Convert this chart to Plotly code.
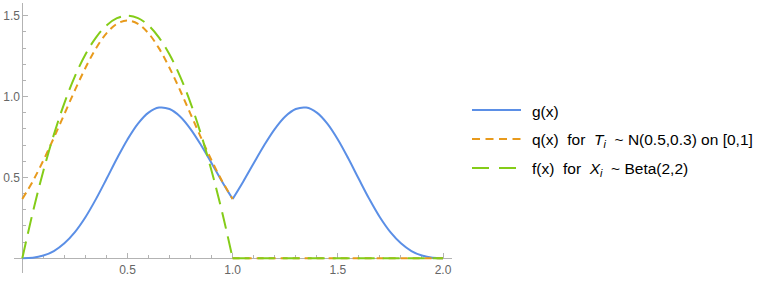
import plotly.graph_objects as go

# ---- data ----
x_left = [0.0, 0.05, 0.1, 0.15, 0.2, 0.25, 0.3, 0.35, 0.4, 0.45, 0.5,
          0.55, 0.6, 0.65, 0.7, 0.75, 0.8, 0.85, 0.9, 0.95, 1.0]
x_right = [1.0, 1.05, 1.1, 1.15, 1.2, 1.25, 1.3, 1.35, 1.4, 1.45, 1.5,
           1.55, 1.6, 1.65, 1.7, 1.75, 1.8, 1.85, 1.9, 1.95, 2.0]

g_left = [0.0, 0.003, 0.017, 0.045, 0.093, 0.162, 0.254, 0.366, 0.490, 0.617, 0.735,
          0.833, 0.901, 0.932, 0.923, 0.877, 0.799, 0.699, 0.588, 0.474, 0.367]
g_right = [0.367, 0.474, 0.588, 0.699, 0.799, 0.877, 0.923, 0.932, 0.901, 0.833, 0.735,
           0.617, 0.490, 0.366, 0.254, 0.162, 0.093, 0.045, 0.017, 0.003, 0.0]

q_left = [0.367, 0.477, 0.605, 0.745, 0.892, 1.039, 1.177, 1.298, 1.391, 1.450, 1.470,
          1.450, 1.391, 1.298, 1.177, 1.039, 0.892, 0.745, 0.605, 0.477, 0.367]
q_tail_x = [1.0, 2.0]
q_tail = [0.0, 0.0]

f_left = [0.0, 0.285, 0.54, 0.765, 0.96, 1.125, 1.26, 1.365, 1.44, 1.485, 1.5,
          1.485, 1.44, 1.365, 1.26, 1.125, 0.96, 0.765, 0.54, 0.285, 0.0]
f_tail_x = [1.0, 2.0]
f_tail = [0.0, 0.0]

x_tick_vals = [0.5, 1.0, 1.5, 2.0]
x_tick_text = ["0.5", "1.0", "1.5", "2.0"]
y_tick_vals = [0.5, 1.0, 1.5]
y_tick_text = ["0.5", "1.0", "1.5"]

legend_labels = [
    "g(x)",
    "q(x)\u00a0 for\u00a0 <i>T</i><sub><i>i</i></sub>\u00a0 ~ N(0.5,0.3) on [0,1]",
    "f(x)\u00a0 for\u00a0 <i>X</i><sub><i>i</i></sub>\u00a0 ~ Beta(2,2)",
]

BLUE = "#5b8fe6"
ORANGE = "#e89a1c"
GREEN = "#84cc18"
Q_DASH = "7px,5px"
F_DASH = "17px,8px"

W, H = 763, 281
ML, MR, MT, MB = 14, 311, 3, 8
PW, PH = W - ML - MR, H - MT - MB

XR = [-0.0395, 2.0428]
YR = [-0.0909, 1.5786]

fig = go.Figure()
for xs, ys in [(x_left, g_left), (x_right, g_right)]:
    fig.add_trace(go.Scatter(x=xs, y=ys, mode="lines", line=dict(color=BLUE, width=2, shape="spline"),
                             showlegend=False, hoverinfo="skip"))
fig.add_trace(go.Scatter(x=x_left, y=q_left, mode="lines",
                         line=dict(color=ORANGE, width=2, dash=Q_DASH, shape="spline"),
                         showlegend=False, hoverinfo="skip"))
fig.add_trace(go.Scatter(x=q_tail_x, y=q_tail, mode="lines",
                         line=dict(color=ORANGE, width=2, dash=Q_DASH),
                         showlegend=False, hoverinfo="skip"))
fig.add_trace(go.Scatter(x=x_left, y=f_left, mode="lines",
                         line=dict(color=GREEN, width=2, dash=F_DASH, shape="spline"),
                         showlegend=False, hoverinfo="skip"))
fig.add_trace(go.Scatter(x=f_tail_x, y=f_tail, mode="lines",
                         line=dict(color=GREEN, width=2, dash=F_DASH),
                         showlegend=False, hoverinfo="skip"))

def px_x(p):
    return (p - ML) / PW

def px_y(p):
    return (H - MB - p) / PH

AX_COL = "#b3b3b3"
TICK_FONT = dict(family="Liberation Sans, Arial, sans-serif", size=12, color="#666666")

minor_x = [round(0.1 * i, 1) for i in range(1, 20) if i not in (5, 10, 15)]
minor_y = [round(0.1 * i, 1) for i in range(1, 16) if i not in (5, 10, 15)]

fig.update_layout(
    width=W, height=H,
    margin=dict(l=ML, r=MR, t=MT, b=MB),
    paper_bgcolor="white", plot_bgcolor="white",
    showlegend=False,
    xaxis=dict(range=XR, showgrid=False, zeroline=False, showline=True, linecolor=AX_COL, linewidth=1,
               anchor="free", position=(0 - YR[0]) / (YR[1] - YR[0]),
               tickmode="array", tickvals=x_tick_vals, ticktext=x_tick_text,
               ticks="inside", ticklen=5, tickcolor=AX_COL, tickwidth=1,
               tickfont=TICK_FONT, layer="below traces", automargin=False,
               minor=dict(tickvals=minor_x, ticks="inside", ticklen=3, tickcolor=AX_COL, tickwidth=1)),
    yaxis=dict(range=YR, showgrid=False, zeroline=False, showline=True, linecolor=AX_COL, linewidth=1,
               anchor="free", position=(0 - XR[0]) / (XR[1] - XR[0]),
               tickmode="array", tickvals=y_tick_vals, ticktext=y_tick_text,
               ticks="inside", ticklen=5, tickcolor=AX_COL, tickwidth=1,
               tickfont=TICK_FONT, layer="below traces", automargin=False,
               minor=dict(tickvals=minor_y, ticks="inside", ticklen=3, tickcolor=AX_COL, tickwidth=1)),
)

# manual legend
rows_y = [110, 139, 168]
leg_styles = [(BLUE, "solid", 521), (ORANGE, "8px,5.5px", 521), (GREEN, "17px,10px", 516)]
for ry, (col, dash, xend), lab in zip(rows_y, leg_styles, legend_labels):
    fig.add_shape(type="line", xref="paper", yref="paper",
                  x0=px_x(472), x1=px_x(xend), y0=px_y(ry), y1=px_y(ry),
                  line=dict(color=col, width=2, dash=dash))
    fig.add_annotation(xref="paper", yref="paper", x=px_x(530), y=px_y(ry + 1),
                       xanchor="left", yanchor="middle", showarrow=False, text=lab,
                       font=dict(family="Liberation Sans, Arial, sans-serif", size=15.5, color="black"))

fig.write_html("out.html", config={"displayModeBar": False},
               post_script="document.body.style.margin='0';")
